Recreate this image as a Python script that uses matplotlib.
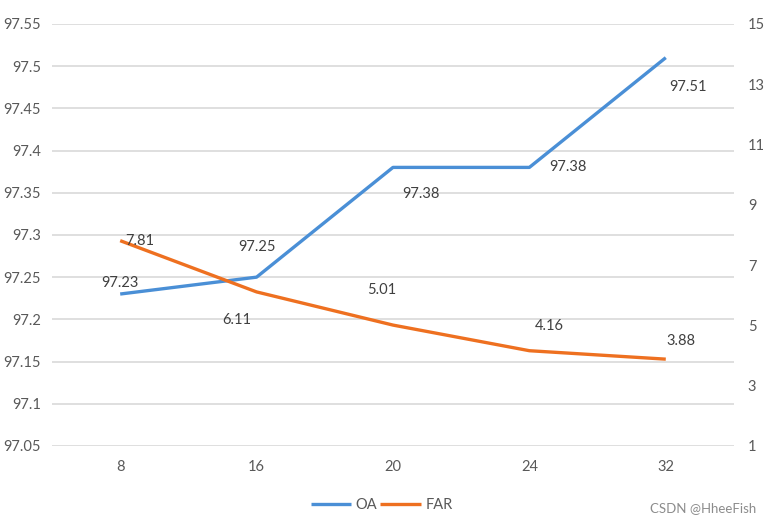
import matplotlib
matplotlib.use("Agg")
import matplotlib.pyplot as plt

plt.rcParams['font.family'] = ['Lato', 'DejaVu Sans']

# chart data
categories = ["8", "16", "20", "24", "32"]
oa = [97.23, 97.25, 97.38, 97.38, 97.51]
far = [7.81, 6.11, 5.01, 4.16, 3.88]

# label offsets in points (manually placed like in the source chart)
oa_offsets = [(0, 8), (0, 22), (20, -19), (28, 0), (16, -21)]
far_offsets = [(14, 0), (-14, -20), (-8, 25), (14, 18), (11, 13)]

blue = "#4A8FD6"
orange = "#EE7020"
text_col = "#595959"
grid_col = "#D9D9D9"

fig = plt.figure(figsize=(7.68, 5.25), dpi=100)
ax = fig.add_axes([0.0677, 0.1505, 0.888, 0.804])
ax2 = ax.twinx()

x = list(range(len(categories)))
ax.plot(x, oa, color=blue, linewidth=2.4, label="OA", solid_capstyle='butt', zorder=3)
ax2.plot(x, far, color=orange, linewidth=2.4, label="FAR", solid_capstyle='butt', zorder=3)

ax.set_xlim(-0.5, len(categories) - 0.5)
ax.set_ylim(97.05, 97.55)
ax.set_yticks([97.05 + 0.05 * i for i in range(11)])
ax.set_yticklabels(["97.05", "97.1", "97.15", "97.2", "97.25", "97.3",
                    "97.35", "97.4", "97.45", "97.5", "97.55"])
ax2.set_ylim(1, 15)
ax2.set_yticks(range(1, 16, 2))

ax.set_xticks(x)
ax.set_xticklabels(categories)

for a in (ax, ax2):
    for s in a.spines.values():
        s.set_visible(False)
    a.tick_params(length=0, labelsize=10.5, colors=text_col)
ax.tick_params(axis='y', pad=8)
ax2.tick_params(axis='y', pad=10)
ax.tick_params(axis='x', pad=10)

ax.yaxis.grid(True, color=grid_col, linewidth=1.2)
ax.set_axisbelow(True)

for i, v in enumerate(oa):
    ax.annotate(f"{v:.2f}", (i, v), xytext=oa_offsets[i], textcoords='offset points',
                ha='center', va='center', fontsize=10.5, color="#404040")
for i, v in enumerate(far):
    ax2.annotate(f"{v:.2f}", (i, v), xytext=far_offsets[i], textcoords='offset points',
                 ha='center', va='center', fontsize=10.5, color="#404040")

h1, l1 = ax.get_legend_handles_labels()
h2, l2 = ax2.get_legend_handles_labels()
fig.legend(h1 + h2, l1 + l2, loc='center', bbox_to_anchor=(0.497, 0.038), ncol=2,
           frameon=False, fontsize=10.5, labelcolor=text_col, handlelength=2.8,
           handletextpad=0.3, columnspacing=0.2)

fig.text(0.985, 0.032, "CSDN @HheeFish", ha='right', va='center', fontsize=9.5, color="#8C8C8C")

fig.savefig("out.png", dpi=100)
